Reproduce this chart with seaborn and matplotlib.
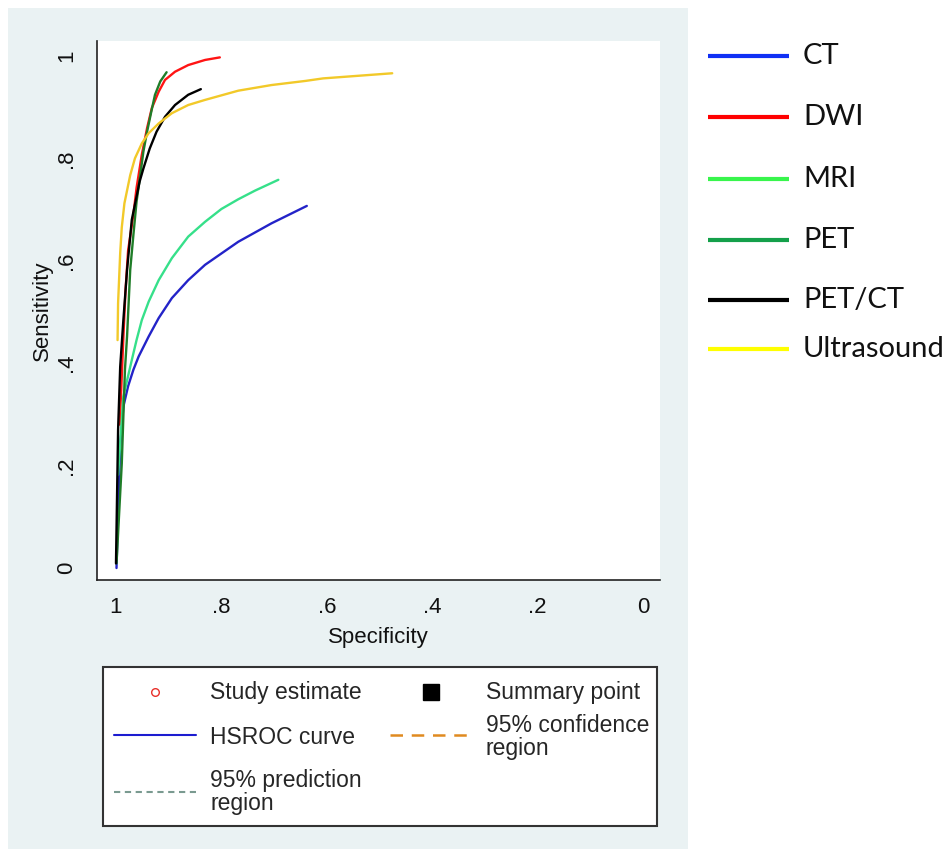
import numpy as np
import pandas as pd
import matplotlib
matplotlib.use("Agg")
import matplotlib.pyplot as plt
import seaborn as sns
from matplotlib.patches import Rectangle
from matplotlib.lines import Line2D

# ---------------- data ----------------
modalities = ["CT", "DWI", "MRI", "PET", "PET/CT", "Ultrasound"]

ct_spec = [0.999, 0.995, 0.992, 0.986, 0.977, 0.967, 0.957, 0.938, 0.919, 0.894,
           0.863, 0.831, 0.768, 0.705, 0.638]
ct_sens = [0.000, 0.140, 0.237, 0.315, 0.355, 0.387, 0.413, 0.452, 0.488, 0.527,
           0.562, 0.592, 0.637, 0.673, 0.707]

dwi_spec = [0.993, 0.990, 0.986, 0.982, 0.977, 0.967, 0.961, 0.951, 0.941, 0.932,
            0.919, 0.907, 0.888, 0.863, 0.831, 0.803]
dwi_sens = [0.280, 0.350, 0.450, 0.540, 0.620, 0.690, 0.742, 0.807, 0.859, 0.898,
            0.930, 0.953, 0.969, 0.982, 0.992, 0.997]

mri_spec = [0.996, 0.986, 0.970, 0.961, 0.951, 0.938, 0.919, 0.894, 0.863, 0.831,
            0.800, 0.768, 0.736, 0.692]
mri_sens = [0.182, 0.335, 0.406, 0.445, 0.484, 0.520, 0.562, 0.605, 0.647, 0.676,
            0.701, 0.720, 0.737, 0.758]

pet_spec = [0.999, 0.989, 0.983, 0.979, 0.973, 0.967, 0.961, 0.954, 0.948, 0.941,
            0.933, 0.926, 0.916, 0.904]
pet_sens = [0.009, 0.204, 0.387, 0.452, 0.582, 0.650, 0.715, 0.767, 0.813, 0.852,
            0.891, 0.924, 0.950, 0.968]

petct_spec = [1.000, 0.996, 0.992, 0.986, 0.979, 0.970, 0.962, 0.955, 0.948, 0.936,
              0.923, 0.907, 0.888, 0.863, 0.839]
petct_sens = [0.009, 0.270, 0.393, 0.484, 0.582, 0.680, 0.720, 0.755, 0.780, 0.819,
              0.852, 0.881, 0.904, 0.924, 0.935]

us_spec = [0.997, 0.996, 0.992, 0.989, 0.984, 0.973, 0.964, 0.951, 0.938, 0.919,
           0.894, 0.863, 0.831, 0.768, 0.705, 0.641, 0.607, 0.476]
us_sens = [0.445, 0.517, 0.615, 0.665, 0.712, 0.767, 0.800, 0.829, 0.849, 0.868,
           0.888, 0.904, 0.914, 0.932, 0.943, 0.951, 0.956, 0.966]

x_ticks = [1, 0.8, 0.6, 0.4, 0.2, 0]
x_tick_labels = ["1", ".8", ".6", ".4", ".2", "0"]
y_ticks = [0, 0.2, 0.4, 0.6, 0.8, 1]
y_tick_labels = ["0", ".2", ".4", ".6", ".8", "1"]

line_colors = {"CT": "#2323c8", "DWI": "#ff1414", "MRI": "#36e08a",
               "PET": "#1f7d28", "PET/CT": "#000000", "Ultrasound": "#f2c929"}
legend_colors = ["#1030f5", "#ff0000", "#38f54c", "#14a04a", "#000000", "#ffff00"]

bottom_legend_labels = ["Study estimate", "Summary point", "HSROC curve",
                        "95% confidence\nregion", "95% prediction\nregion"]

# ---------------- build table ----------------
specs = [ct_spec, dwi_spec, mri_spec, pet_spec, petct_spec, us_spec]
senss = [ct_sens, dwi_sens, mri_sens, pet_sens, petct_sens, us_sens]
frames = []
for m, s, e in zip(modalities, specs, senss):
    frames.append(pd.DataFrame({"modality": m, "spec": s, "sens": e}))
df = pd.concat(frames, ignore_index=True)

# ---------------- figure ----------------
sns.set_style("white")
plt.rcParams["font.family"] = ["Liberation Sans", "DejaVu Sans"]

W, H = 948, 851
fig = plt.figure(figsize=(W / 100, H / 100), dpi=100)
fig.patch.set_facecolor("white")


def fx(x):
    return x / W


def fy(y):
    return 1 - y / H


# Stata graph region background
fig.add_artist(Rectangle((fx(8), fy(849)), (688 - 8) / W, (849 - 8) / H,
                         transform=fig.transFigure, facecolor="#EAF2F3",
                         edgecolor="none", zorder=-5))

ax = fig.add_axes([fx(97), fy(580), (660 - 97) / W, (580 - 41) / H])
ax.set_facecolor("white")

sns.lineplot(data=df, x="spec", y="sens", hue="modality", hue_order=modalities,
             palette=line_colors, sort=False, estimator=None, units="modality",
             legend=False, linewidth=1.7, ax=ax)
for ln in ax.get_lines():
    ln.set_solid_joinstyle("round")
    ln.set_solid_capstyle("round")

ax.set_xlim(1.036, -0.032)
ax.set_ylim(-0.0234, 1.029)
ax.set_xticks(x_ticks)
ax.set_xticklabels(x_tick_labels)
ax.set_yticks(y_ticks)
ax.set_yticklabels(y_tick_labels, rotation=90, va="center")
ax.tick_params(axis="both", direction="out", length=6.5, width=1.0,
               labelsize=16, color="black", labelcolor="#111111")
ax.tick_params(axis="y", pad=8)
ax.tick_params(axis="x", pad=6)
for side in ["top", "right"]:
    ax.spines[side].set_visible(False)
for side in ["left", "bottom"]:
    ax.spines[side].set_color("#222222")
    ax.spines[side].set_linewidth(1.2)
ax.set_xlabel("Specificity", fontsize=16, labelpad=6, color="#111111")
ax.set_ylabel("Sensitivity", fontsize=16, labelpad=2, color="#111111")
ax.grid(False)

# ---------------- right-hand legend ----------------
ys = [56, 117, 179, 240, 300, 349]
for m, c, y in zip(modalities, legend_colors, ys):
    fig.add_artist(Line2D([fx(708), fx(789)], [fy(y), fy(y)], color=c,
                          linewidth=3.0, transform=fig.transFigure,
                          solid_capstyle="butt"))
    fig.text(fx(803), fy(y), m, fontsize=21, family=["Lato", "DejaVu Sans"],
             va="center", ha="left", color="#111111")

# ---------------- bottom legend box ----------------
fig.add_artist(Rectangle((fx(103), fy(826)), (657 - 103) / W, (826 - 667) / H,
                         transform=fig.transFigure, facecolor="white",
                         edgecolor="#333333", linewidth=1.5, zorder=2))
tfs = 16.5
# row 1
fig.add_artist(Line2D([fx(155)], [fy(692)], marker="o", markersize=5.5,
                      markerfacecolor="none", markeredgecolor="#e8302a",
                      markeredgewidth=1.0, linestyle="none",
                      transform=fig.transFigure, zorder=3))
fig.text(fx(210), fy(692), bottom_legend_labels[0], fontsize=tfs, va="center",
         ha="left", zorder=3)
fig.add_artist(Line2D([fx(431)], [fy(692)], marker="s", markersize=11,
                      color="black", linestyle="none",
                      transform=fig.transFigure, zorder=3))
fig.text(fx(486), fy(692), bottom_legend_labels[1], fontsize=tfs, va="center",
         ha="left", zorder=3)
# row 2
fig.add_artist(Line2D([fx(114), fx(196)], [fy(735), fy(735)], color="#1c1cd0",
                      linewidth=1.5, transform=fig.transFigure, zorder=3))
fig.text(fx(210), fy(737), bottom_legend_labels[2], fontsize=tfs, va="center",
         ha="left", zorder=3)
fig.add_artist(Line2D([fx(390), fx(471)], [fy(735), fy(735)], color="#e08a20",
                      linewidth=1.8, linestyle=(0, (5, 3.5)),
                      transform=fig.transFigure, zorder=3))
fig.text(fx(486), fy(737), bottom_legend_labels[3], fontsize=tfs, va="center",
         ha="left", linespacing=1.0, zorder=3)
# row 3
fig.add_artist(Line2D([fx(114), fx(196)], [fy(792), fy(792)], color="#7a9a90",
                      linewidth=1.5, linestyle=(0, (3, 2.2)),
                      transform=fig.transFigure, zorder=3))
fig.text(fx(210), fy(792), bottom_legend_labels[4], fontsize=tfs, va="center",
         ha="left", linespacing=1.0, zorder=3)

fig.savefig("out.png", dpi=100, facecolor="white")
